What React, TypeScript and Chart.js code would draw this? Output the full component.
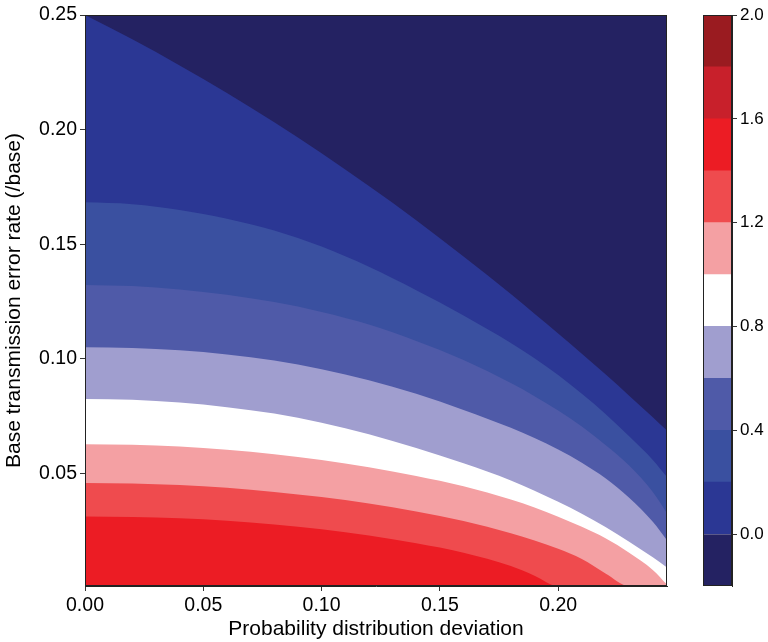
import React, { useEffect, useRef } from 'react';
import { Chart, registerables } from 'chart.js';

Chart.register(...registerables);
Chart.defaults.font.family = "'Liberation Sans', Arial, Helvetica, sans-serif";
Chart.defaults.color = '#000';

// ---- data ----
const X_MIN = 0;
const X_MAX = 0.246;
const Y_MIN = 0.001;
const Y_MAX = 0.25;

const X_GRID = [0, 0.02, 0.04, 0.06, 0.08, 0.10, 0.12, 0.14, 0.16, 0.18, 0.19, 0.20, 0.21, 0.22, 0.23, 0.24, 0.246];

// contour boundaries y(x) for each level
const LEVEL_TOP = [0.25, 0.25, 0.25, 0.25, 0.25, 0.25, 0.25, 0.25, 0.25, 0.25, 0.25, 0.25, 0.25, 0.25, 0.25, 0.25, 0.25];
const LEVEL_00 = [0.25, 0.2394, 0.2280, 0.2160, 0.2032, 0.1897, 0.1754, 0.1605, 0.1447, 0.1283, 0.1197, 0.1111, 0.1023, 0.0933, 0.0840, 0.0746, 0.0688];
const LEVEL_02 = [0.1683, 0.1675, 0.1650, 0.1612, 0.1560, 0.1490, 0.1402, 0.1300, 0.1190, 0.1070, 0.1003, 0.0930, 0.0848, 0.0760, 0.0663, 0.0560, 0.0485];
const LEVEL_04 = [0.1323, 0.1318, 0.1303, 0.1280, 0.1248, 0.1205, 0.1150, 0.1078, 0.0995, 0.0895, 0.0838, 0.0775, 0.0705, 0.0625, 0.0535, 0.0420, 0.0327];
const LEVEL_06 = [0.1051, 0.1048, 0.1038, 0.1020, 0.0993, 0.0955, 0.0907, 0.0848, 0.0778, 0.0700, 0.0655, 0.0605, 0.0548, 0.0480, 0.0395, 0.0290, 0.0209];
const LEVEL_08 = [0.0826, 0.0822, 0.0810, 0.0790, 0.0762, 0.0722, 0.0672, 0.0612, 0.0545, 0.0470, 0.0425, 0.0377, 0.0325, 0.0267, 0.0203, 0.0135, 0.0091];
const LEVEL_10 = [0.0628, 0.0626, 0.0618, 0.0604, 0.0585, 0.0560, 0.0528, 0.0490, 0.0445, 0.0387, 0.0352, 0.0312, 0.0268, 0.0218, 0.0155, 0.0080, 0.0016];
const LEVEL_12 = [0.0459, 0.0457, 0.0450, 0.0438, 0.0420, 0.0398, 0.0370, 0.0335, 0.0293, 0.0240, 0.0208, 0.0172, 0.0128, 0.0065, 0.001, 0.001, 0.001];
const LEVEL_14 = [0.0313, 0.0311, 0.0305, 0.0294, 0.0278, 0.0257, 0.0230, 0.0196, 0.0155, 0.0097, 0.0055, 0.001, 0.001, 0.001, 0.001, 0.001, 0.001];

const LEVEL_CURVES = [LEVEL_TOP, LEVEL_00, LEVEL_02, LEVEL_04, LEVEL_06, LEVEL_08, LEVEL_10, LEVEL_12, LEVEL_14];
// colour of the band lying below each curve
const BAND_COLORS = ['#242262', '#2b3794', '#3a50a0', '#4f5aa8', '#a09ecf', '#ffffff', '#f4a0a3', '#ef4b4e', '#ec1c24'];

const X_TICKS = [0, 0.05, 0.10, 0.15, 0.20];
const Y_TICKS = [0.05, 0.10, 0.15, 0.20, 0.25];

const CB_LEVELS = [-0.2, 0.0, 0.2, 0.4, 0.6, 0.8, 1.0, 1.2, 1.4, 1.6, 1.8, 2.0];
const CB_COLORS = ['#242262', '#2b3794', '#3a50a0', '#4f5aa8', '#a09ecf', '#ffffff', '#f4a0a3', '#ef4b4e', '#ec1c24', '#c8202b', '#9a1b20'];
const CB_TICKS = [0.0, 0.4, 0.8, 1.2, 1.6, 2.0];

const framePlugin = {
  id: 'frame',
  afterDraw(chart: any) {
    const { ctx, chartArea: a } = chart;
    ctx.save();
    ctx.strokeStyle = '#222';
    ctx.lineWidth = 1;
    ctx.strokeRect(Math.round(a.left) + 0.5, Math.round(a.top) + 0.5, Math.round(a.right - a.left) - 1, Math.round(a.bottom - a.top) - 1);
    ctx.restore();
  },
};

export default function App() {
  const mainRef = useRef<HTMLCanvasElement>(null);
  const cbRef = useRef<HTMLCanvasElement>(null);

  useEffect(() => {
    const n = LEVEL_CURVES.length;
    const datasets = LEVEL_CURVES.map((curve, i) => ({
      data: X_GRID.map((x, j) => ({ x, y: curve[j] })),
      backgroundColor: BAND_COLORS[i],
      borderColor: BAND_COLORS[i],
      borderWidth: 0,
      pointRadius: 0,
      fill: 'start',
      cubicInterpolationMode: 'monotone' as const,
      order: n - i,
    }));

    const main = new Chart(mainRef.current!, {
      type: 'line',
      data: { datasets },
      plugins: [framePlugin],
      options: {
        animation: false,
        responsive: false,
        maintainAspectRatio: false,
        layout: { padding: { left: 0, top: 15, right: 23, bottom: 0 } },
        plugins: { legend: { display: false }, tooltip: { enabled: false } },
        scales: {
          x: {
            type: 'linear',
            min: X_MIN,
            max: X_MAX,
            afterBuildTicks: (s: any) => { s.ticks = X_TICKS.map((v) => ({ value: v })); },
            afterFit: (s: any) => { s.height = 56; },
            ticks: { callback: (v: any) => Number(v).toFixed(2), font: { size: 19.5 }, color: '#000', padding: 3, maxRotation: 0, autoSkip: false },
            grid: { display: true, drawOnChartArea: false, drawTicks: true, tickLength: 5, color: '#333', lineWidth: 1 },
            border: { display: true, color: '#222', width: 1 },
            title: { display: true, text: 'Probability distribution deviation', font: { size: 21 }, color: '#000', padding: { top: 0, bottom: 0 } },
          },
          y: {
            type: 'linear',
            min: Y_MIN,
            max: Y_MAX,
            afterBuildTicks: (s: any) => { s.ticks = Y_TICKS.map((v) => ({ value: v })); },
            afterFit: (s: any) => { s.width = 85; },
            ticks: { callback: (v: any) => Number(v).toFixed(2), font: { size: 19.5 }, color: '#000', padding: 3, autoSkip: false },
            grid: { display: true, drawOnChartArea: false, drawTicks: true, tickLength: 5, color: '#333', lineWidth: 1 },
            border: { display: true, color: '#222', width: 1 },
            title: { display: true, text: 'Base transmission error rate (/base)', font: { size: 21 }, color: '#000', padding: { top: 2, bottom: 0 } },
          },
        },
      },
    });

    const cb = new Chart(cbRef.current!, {
      type: 'bar',
      data: {
        labels: ['cb'],
        datasets: CB_COLORS.map((c, i) => ({
          data: [[CB_LEVELS[i], CB_LEVELS[i + 1]]] as any,
          backgroundColor: c,
          borderWidth: 0,
          barPercentage: 1,
          categoryPercentage: 1,
          grouped: false,
        })),
      },
      plugins: [framePlugin],
      options: {
        animation: false,
        responsive: false,
        maintainAspectRatio: false,
        layout: { padding: { left: 13, top: 15, right: 0, bottom: 56 } },
        plugins: { legend: { display: false }, tooltip: { enabled: false } },
        scales: {
          x: { display: false },
          y: {
            position: 'right',
            min: CB_LEVELS[0],
            max: CB_LEVELS[CB_LEVELS.length - 1],
            afterBuildTicks: (s: any) => { s.ticks = CB_TICKS.map((v) => ({ value: v })); },
            afterFit: (s: any) => { s.width = 36; },
            ticks: { callback: (v: any) => Number(v).toFixed(1), font: { size: 17 }, color: '#000', padding: 3, autoSkip: false },
            grid: { display: true, drawOnChartArea: false, drawTicks: true, tickLength: 5, color: '#333', lineWidth: 1 },
            border: { display: true, color: '#222', width: 1 },
          },
        },
      },
    });

    return () => {
      main.destroy();
      cb.destroy();
    };
  }, []);

  return (
    <div style={{ position: 'fixed', left: 0, top: 0, width: 768, height: 642, background: '#fff' }}>
      <canvas ref={mainRef} width={690} height={642} style={{ position: 'absolute', left: 0, top: 0, width: 690, height: 642 }} />
      <canvas ref={cbRef} width={78} height={642} style={{ position: 'absolute', left: 690, top: 0, width: 78, height: 642 }} />
    </div>
  );
}
